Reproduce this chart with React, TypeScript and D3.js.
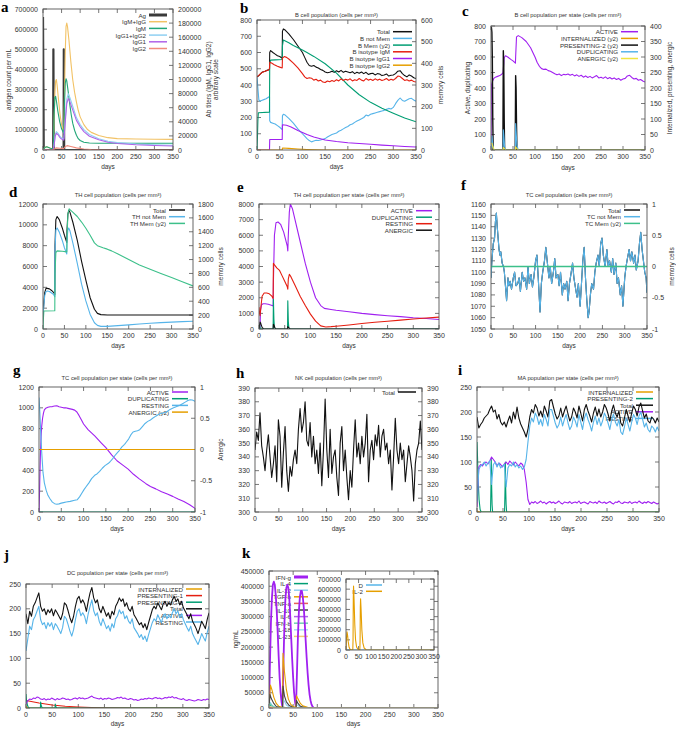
import React from "react";
import * as d3 from "d3";

type Pt = [number, number];

// ---------------- shared ----------------
const DAY_TICKS = [0, 50, 100, 150, 200, 250, 300, 350];
const stepPts = (vals: number[]): Pt[] => vals.map((v, i) => [(i * 350) / (vals.length - 1), v] as Pt);

// ---------------- panel a ----------------
const aAg: Pt[] = [[0, 660000], [1, 330000], [2, 0], [27.5, 0], [28, 500000], [29, 0], [55.5, 0], [56, 500000], [57, 0], [350, 0]];
const aIgMIgG: Pt[] = [[0, 0], [3, 2000], [6, 4000], [10, 4500], [15, 3500], [20, 2500], [27.5, 2000], [28, 3000], [30, 40000], [32, 80000], [34, 98000], [36, 100000], [38, 92000], [42, 70000], [46, 50000], [50, 36000], [54, 29000], [55.5, 28000], [56, 30000], [58, 80000], [60, 140000], [62, 175000], [64, 180000], [66, 175000], [70, 155000], [75, 125000], [80, 100000], [85, 82000], [90, 68000], [95, 56000], [100, 47000], [110, 36000], [120, 29000], [130, 25000], [150, 20500], [175, 17500], [200, 16200], [250, 15500], [300, 15200], [350, 15000]];
const aIgM: Pt[] = [[0, 0], [3, 2000], [6, 4000], [10, 4500], [15, 3500], [20, 2500], [27.5, 2000], [28, 3000], [30, 50000], [32, 75000], [34, 76000], [36, 70000], [40, 55000], [45, 40000], [50, 30000], [55.5, 24000], [56, 26000], [58, 70000], [60, 95000], [62, 101000], [64, 98000], [68, 82000], [72, 65000], [76, 50000], [80, 38000], [85, 28000], [90, 21000], [95, 16000], [100, 13500], [110, 11000], [125, 10000], [150, 9600], [350, 9500]];
const aIgG12: Pt[] = [[0, 0], [27.5, 0], [30, 8000], [33, 22000], [36, 26000], [40, 24000], [45, 20000], [50, 17000], [55.5, 15500], [56, 16000], [60, 45000], [64, 72000], [68, 80000], [72, 75000], [80, 62000], [90, 46000], [100, 36000], [110, 29000], [125, 22000], [150, 16000], [175, 12500], [200, 10500], [250, 8500], [300, 7500], [350, 6800]];
const aIgG1: Pt[] = [[0, 0], [27.5, 0], [30, 7000], [33, 20000], [36, 23500], [40, 22000], [45, 18000], [50, 15500], [55.5, 14000], [56, 14500], [60, 40000], [64, 66000], [68, 73000], [72, 69000], [80, 57000], [90, 42000], [100, 33000], [110, 26000], [125, 19500], [150, 14500], [175, 11000], [200, 9200], [250, 7500], [300, 6400], [350, 5700]];
const aIgG2: Pt[] = [[0, 0], [27.5, 0], [30, 1000], [35, 3000], [45, 2500], [55.5, 2000], [56, 2200], [60, 5000], [65, 6200], [75, 5000], [90, 3000], [110, 1500], [130, 600], [150, 200], [200, 0], [350, 0]];

// ---------------- panel b ----------------
const bTotal: Pt[] = [[0, 450], [3, 455], [8, 470], [12, 480], [18, 485], [22, 490], [27.5, 495], [28, 600], [30, 612], [35, 600], [40, 590], [45, 580], [50, 575], [55.5, 565], [56, 730], [58, 745], [62, 738], [70, 715], [80, 680], [90, 640], [100, 600], [105, 570], [110, 540], [115, 520], [120, 515], [125, 520], [130, 510], [135, 505], [140, 495], [145, 490], [150, 480], [155, 475], [160, 478], [165, 485], [170, 478], [175, 488], [180, 480], [185, 490], [190, 478], [195, 485], [200, 480], [205, 475], [210, 482], [215, 470], [220, 478], [225, 472], [230, 480], [235, 470], [240, 478], [245, 465], [250, 470], [255, 472], [260, 462], [265, 470], [270, 468], [275, 458], [280, 462], [285, 468], [290, 455], [295, 460], [300, 462], [305, 470], [310, 485], [315, 488], [320, 470], [325, 458], [330, 450], [335, 462], [340, 455], [345, 445], [350, 440]];
const bNotMem: Pt[] = [[0, 450], [2, 380], [4, 310], [6, 300], [10, 305], [15, 310], [20, 315], [25, 325], [27.5, 330], [28, 180], [30, 170], [35, 165], [40, 160], [45, 150], [50, 140], [55.5, 125], [56, 210], [58, 220], [62, 215], [70, 195], [80, 165], [90, 130], [100, 100], [105, 85], [110, 70], [115, 58], [120, 50], [125, 55], [130, 60], [135, 58], [140, 62], [145, 66], [150, 70], [155, 80], [160, 88], [165, 95], [170, 100], [175, 105], [180, 115], [185, 122], [190, 130], [195, 138], [200, 145], [205, 155], [210, 160], [215, 170], [220, 178], [225, 185], [230, 192], [235, 200], [240, 215], [245, 210], [250, 220], [255, 224], [260, 228], [265, 232], [270, 236], [275, 240], [280, 244], [285, 250], [290, 256], [295, 252], [300, 262], [305, 285], [310, 305], [315, 320], [320, 305], [325, 300], [330, 308], [335, 315], [340, 318], [345, 308], [350, 300]];
const bMem: Pt[] = [[0, 0], [1, 60], [2, 140], [3, 172], [27.5, 175], [28, 400], [30, 415], [40, 416], [55.5, 418], [56, 480], [58, 508], [70, 495], [80, 482], [90, 472], [100, 462], [110, 450], [125, 432], [150, 398], [175, 355], [200, 300], [225, 255], [250, 220], [275, 193], [300, 170], [325, 148], [350, 130]];
const bIgM: Pt[] = [[0, 450], [5, 462], [10, 475], [15, 482], [20, 488], [25, 492], [27.5, 500], [28, 540], [32, 535], [38, 525], [45, 515], [50, 510], [55.5, 505], [56, 565], [60, 575], [65, 570], [70, 560], [80, 535], [90, 505], [100, 470], [105, 450], [110, 440], [115, 445], [120, 442], [125, 430], [130, 435], [135, 425], [140, 430], [145, 418], [150, 415], [155, 425], [160, 420], [165, 428], [170, 422], [175, 432], [180, 425], [185, 438], [190, 428], [195, 435], [200, 430], [205, 438], [210, 425], [215, 432], [220, 428], [225, 440], [230, 430], [235, 425], [240, 440], [245, 430], [250, 435], [255, 428], [260, 438], [265, 430], [270, 436], [275, 428], [280, 432], [285, 440], [290, 428], [295, 435], [300, 430], [305, 440], [310, 455], [315, 452], [320, 440], [325, 428], [330, 432], [335, 425], [340, 430], [345, 422], [350, 418]];
const bIgG1: Pt[] = [[0, 0], [27.5, 0], [28, 65], [55.5, 65], [56, 155], [65, 152], [75, 142], [90, 120], [100, 108], [110, 95], [125, 80], [150, 62], [175, 52], [200, 45], [225, 40], [250, 35], [275, 30], [300, 26], [325, 22], [350, 18]];
const bIgG2: Pt[] = [[0, 0], [55.5, 0], [56, 12], [70, 10], [90, 6], [110, 3], [130, 1], [150, 0], [350, 0]];

// ---------------- panel c ----------------
const cActive: Pt[] = [[0, 0], [1, 420], [3, 440], [6, 460], [10, 470], [15, 475], [20, 480], [25, 490], [27.5, 500], [28, 520], [30, 595], [33, 608], [38, 600], [45, 585], [50, 575], [55.5, 560], [56, 600], [58, 730], [62, 738], [70, 725], [80, 700], [90, 660], [100, 600], [105, 565], [110, 540], [115, 525], [120, 520], [125, 522], [130, 512], [135, 508], [140, 500], [145, 492], [150, 485], [155, 490], [160, 480], [165, 488], [170, 485], [175, 490], [180, 482], [185, 488], [190, 478], [195, 485], [200, 475], [205, 482], [210, 470], [215, 478], [220, 468], [225, 475], [230, 465], [235, 472], [240, 480], [245, 465], [250, 470], [255, 462], [260, 472], [265, 460], [270, 468], [275, 458], [280, 465], [285, 455], [290, 462], [295, 450], [300, 458], [305, 462], [310, 478], [315, 482], [320, 468], [325, 458], [330, 462], [335, 450], [340, 455], [345, 445], [350, 438]];
const cInternalized: Pt[] = [[0, 0], [1, 8], [3, 3], [5, 0], [350, 0]];
const cPresenting: Pt[] = [[0, 395], [1, 395], [2, 380], [3, 300], [4, 100], [5, 0], [27, 0], [28, 320], [29, 280], [30, 100], [31, 0], [55, 0], [56, 240], [57, 200], [58, 80], [59, 0], [350, 0]];
const cDup: Pt[] = [[0, 0], [1, 40], [2, 90], [3, 60], [5, 10], [7, 0], [27.5, 0], [28, 130], [29, 100], [31, 20], [33, 0], [55.5, 0], [56, 170], [57, 120], [59, 30], [62, 0], [350, 0]];
const cAnergic: Pt[] = [[0, 20], [2, 22], [4, 12], [6, 5], [8, 0], [27.5, 0], [28, 8], [30, 5], [33, 0], [55.5, 0], [56, 10], [58, 6], [62, 0], [350, 0]];

// ---------------- panel d ----------------
const dTotal: Pt[] = [[0, 1300], [2, 2500], [4, 3500], [7, 3900], [10, 3900], [15, 3850], [20, 3700], [25, 3500], [27.5, 3300], [28, 8000], [30, 10500], [33, 10800], [38, 10500], [45, 9700], [50, 9000], [55.5, 8300], [56, 9500], [58, 11000], [60, 11400], [63, 11200], [70, 10200], [80, 8500], [90, 6500], [100, 4700], [110, 3000], [120, 1900], [127, 1500], [135, 1380], [150, 1350], [200, 1350], [250, 1350], [300, 1340], [350, 1350]];
const dNotMem: Pt[] = [[0, 1200], [2, 2300], [4, 3200], [7, 3600], [10, 3650], [15, 3600], [20, 3450], [25, 3300], [27.5, 3100], [28, 7500], [30, 9500], [33, 9700], [38, 9300], [45, 8500], [50, 7800], [55.5, 7200], [56, 8500], [58, 9500], [60, 9700], [63, 9400], [70, 8200], [80, 6300], [90, 4300], [100, 2700], [110, 1400], [120, 600], [127, 350], [135, 250], [150, 250], [175, 320], [200, 400], [225, 480], [250, 550], [275, 610], [300, 660], [325, 710], [350, 750]];
const dMem: Pt[] = [[0, 0], [1, 150], [2, 260], [27.5, 262], [28, 800], [30, 1100], [33, 1125], [45, 1120], [55.5, 1110], [56, 1300], [58, 1650], [61, 1730], [70, 1680], [80, 1620], [90, 1540], [100, 1450], [110, 1350], [120, 1240], [127, 1200], [140, 1170], [150, 1150], [160, 1125], [175, 1080], [200, 1000], [225, 920], [250, 860], [275, 800], [300, 740], [325, 680], [350, 620]];

// ---------------- panel e ----------------
const eActive: Pt[] = [[0, 0], [2, 100], [3, 1200], [5, 1550], [8, 1620], [12, 1620], [18, 1580], [24, 1520], [27.5, 1480], [28, 3000], [30, 6000], [33, 6800], [37, 6850], [42, 6700], [48, 6200], [55, 5300], [56, 5000], [57, 6000], [59, 7500], [61, 8000], [65, 7700], [70, 7000], [80, 5600], [90, 4200], [100, 3000], [110, 2000], [120, 1500], [127, 1320], [140, 1250], [150, 1200], [175, 1100], [200, 1000], [225, 920], [250, 850], [275, 790], [300, 720], [325, 670], [350, 610]];
const eDup: Pt[] = [[0, 0], [1, 300], [2, 100], [4, 0], [27.5, 0], [28, 1900], [29, 600], [30, 100], [32, 0], [55.5, 0], [56, 1800], [57, 500], [58, 100], [60, 0], [350, 0]];
const eResting: Pt[] = [[0, 1400], [1, 1000], [2, 850], [4, 1500], [6, 2100], [10, 2300], [15, 2300], [20, 2250], [25, 2100], [27.5, 1950], [28, 4200], [30, 4100], [35, 3900], [40, 3750], [45, 3400], [50, 3050], [55, 2700], [56, 2550], [57, 3200], [59, 3500], [62, 3350], [70, 2800], [80, 2100], [90, 1500], [100, 950], [110, 500], [120, 200], [130, 130], [140, 150], [150, 180], [175, 260], [200, 350], [225, 430], [250, 500], [275, 570], [300, 640], [325, 700], [350, 760]];
const eAnergic: Pt[] = [[0, 0], [1, 200], [2, 450], [3, 400], [4, 300], [6, 100], [9, 0], [27.5, 0], [28, 300], [29, 250], [31, 80], [33, 0], [55.5, 0], [56, 150], [57, 120], [59, 30], [61, 0], [350, 0]];

// ---------------- panel f ----------------
const fNotMem: Pt[] = [[0, 1095], [2, 1110], [5, 1125], [8, 1130], [10, 1145], [12, 1152], [14, 1140], [16, 1130], [18, 1120], [20, 1115], [22, 1118], [25, 1108], [28, 1105], [30, 1100], [33, 1085], [35, 1075], [38, 1095], [40, 1088], [43, 1092], [46, 1085], [50, 1095], [53, 1100], [56, 1088], [60, 1090], [63, 1095], [66, 1083], [70, 1100], [73, 1092], [76, 1095], [80, 1085], [83, 1105], [86, 1090], [90, 1098], [93, 1087], [96, 1095], [100, 1110], [103, 1115], [106, 1095], [108, 1080], [110, 1065], [113, 1090], [116, 1100], [120, 1110], [123, 1122], [126, 1110], [130, 1095], [133, 1105], [136, 1090], [140, 1100], [143, 1112], [146, 1095], [150, 1098], [153, 1088], [156, 1100], [160, 1080], [163, 1090], [166, 1085], [170, 1092], [173, 1075], [176, 1090], [180, 1100], [183, 1108], [186, 1095], [190, 1085], [193, 1078], [196, 1090], [200, 1070], [203, 1090], [206, 1110], [209, 1122], [212, 1095], [215, 1075], [218, 1060], [220, 1065], [223, 1080], [226, 1090], [230, 1085], [233, 1100], [236, 1108], [240, 1115], [243, 1105], [246, 1125], [249, 1130], [252, 1115], [256, 1105], [260, 1120], [263, 1105], [266, 1110], [270, 1100], [273, 1112], [276, 1098], [280, 1108], [283, 1090], [286, 1095], [290, 1080], [293, 1088], [296, 1070], [300, 1095], [303, 1105], [306, 1112], [310, 1120], [313, 1110], [316, 1118], [320, 1108], [323, 1115], [326, 1102], [330, 1110], [333, 1125], [336, 1135], [339, 1120], [342, 1110], [345, 1100], [348, 1095], [350, 1082]];
const fMem: Pt[] = [[0, 0], [350, 0]];

// ---------------- panel g ----------------
const gActive: Pt[] = [[0, 0], [1, 150], [2, 350], [3, 520], [4, 650], [5, 750], [6, 820], [8, 900], [10, 950], [12, 980], [15, 995], [20, 1005], [25, 1010], [30, 1012], [35, 1018], [40, 1020], [45, 1010], [50, 1005], [55, 1000], [60, 1000], [65, 995], [70, 990], [75, 985], [80, 978], [85, 960], [90, 925], [95, 885], [100, 845], [110, 790], [125, 730], [140, 662], [150, 618], [163, 548], [175, 492], [188, 450], [200, 412], [212, 362], [225, 318], [240, 272], [250, 245], [262, 222], [275, 195], [288, 172], [300, 150], [312, 125], [325, 100], [338, 70], [350, 35]];
const gDup: Pt[] = [[0, 0], [350, 0]];
const gResting: Pt[] = [[0, 1100], [2, 950], [4, 750], [6, 580], [9, 380], [12, 280], [16, 210], [20, 160], [25, 125], [30, 95], [35, 80], [40, 75], [45, 78], [50, 85], [55, 90], [61, 96], [70, 102], [80, 112], [86, 118], [91, 145], [96, 180], [101, 215], [106, 245], [112, 280], [118, 320], [125, 352], [130, 365], [136, 390], [142, 420], [148, 445], [155, 465], [159, 480], [165, 510], [170, 540], [174, 560], [180, 590], [186, 625], [192, 650], [196, 672], [201, 700], [206, 740], [211, 768], [216, 775], [221, 780], [226, 790], [232, 820], [238, 850], [244, 870], [249, 880], [255, 900], [262, 920], [270, 940], [278, 950], [286, 960], [294, 985], [302, 1000], [309, 1012], [316, 1024], [322, 1040], [328, 1055], [334, 1070], [339, 1078], [344, 1075], [350, 1062]];
const gAnergic: Pt[] = [[0, 0], [350, 0]];

// ---------------- panel h ----------------
const hTotalVals = [345, 358, 352, 372, 348, 340, 330, 345, 356, 340, 325, 335, 348, 322, 367, 355, 318, 343, 362, 330, 315, 333, 326, 338, 345, 335, 360, 375, 358, 365, 380, 352, 348, 365, 340, 355, 335, 345, 328, 350, 319, 345, 382, 345, 325, 360, 328, 340, 345, 325, 312, 350, 362, 330, 345, 325, 309, 330, 318, 345, 367, 340, 350, 335, 355, 340, 350, 371, 322, 345, 352, 338, 356, 348, 363, 340, 355, 360, 345, 350, 335, 345, 316, 340, 368, 345, 335, 350, 338, 345, 322, 335, 348, 340, 330, 308, 335, 345, 350, 366, 345];

// ---------------- panel i ----------------
const iInternalized: Pt[] = [[0, 2], [5, 0], [350, 0]];
const iPresenting: Pt[] = [[0, 140], [1, 110], [2, 70], [4, 25], [6, 5], [8, 0], [26, 0], [27, 60], [27.5, 105], [28, 60], [29, 15], [30, 0], [53, 0], [54, 50], [54.5, 100], [55, 55], [56, 15], [57, 0], [350, 0]];
const iTotalVals = [190, 168, 175, 180, 188, 192, 196, 205, 212, 200, 204, 186, 195, 180, 174, 180, 170, 182, 192, 178, 200, 186, 210, 188, 176, 168, 160, 150, 165, 190, 205, 198, 215, 208, 192, 202, 190, 212, 202, 190, 222, 225, 210, 196, 186, 192, 208, 190, 202, 212, 196, 182, 190, 208, 200, 188, 212, 198, 182, 205, 215, 202, 192, 180, 198, 210, 192, 206, 190, 200, 215, 208, 196, 182, 202, 214, 198, 190, 202, 178, 172, 188, 205, 192, 180, 198, 212, 205, 192, 210, 218, 202, 188, 196, 182, 178, 190, 186, 178, 188, 180];
const iActiveVals = [10, 90, 95, 92, 98, 100, 96, 102, 110, 105, 100, 92, 98, 95, 90, 96, 100, 95, 102, 98, 94, 100, 96, 92, 98, 95, 85, 60, 25, 15, 20, 18, 21, 17, 19, 22, 18, 20, 16, 19, 21, 18, 20, 17, 19, 22, 18, 16, 20, 19, 18, 21, 17, 19, 20, 18, 22, 17, 19, 20, 18, 16, 21, 19, 18, 20, 17, 22, 19, 18, 20, 17, 19, 21, 18, 16, 20, 19, 22, 18, 17, 20, 19, 18, 21, 17, 19, 20, 18, 22, 19, 17, 20, 18, 21, 19, 17, 20, 18, 16, 18];
const iRestingVals = [20, 85, 92, 95, 100, 92, 98, 102, 55, 95, 100, 90, 98, 88, 92, 95, 50, 88, 95, 92, 100, 90, 95, 88, 92, 85, 90, 105, 140, 172, 188, 180, 198, 190, 175, 185, 172, 195, 185, 172, 205, 205, 192, 178, 168, 175, 190, 172, 185, 195, 178, 165, 172, 190, 182, 170, 195, 180, 165, 188, 198, 185, 175, 162, 180, 192, 175, 188, 172, 182, 198, 190, 178, 165, 185, 196, 180, 172, 185, 160, 155, 170, 188, 175, 162, 180, 195, 188, 175, 192, 200, 185, 170, 178, 165, 160, 172, 168, 160, 170, 162];

// ---------------- panel j ----------------
const jInternalized: Pt[] = [[0, 3], [5, 0], [350, 0]];
const jPres1: Pt[] = [[0, 15], [10, 13], [25, 10], [50, 6], [75, 3.5], [100, 2], [125, 1], [150, 0.3], [200, 0], [350, 0]];
const jPres2: Pt[] = [[0, 28], [1, 15], [3, 5], [5, 0], [27.5, 0], [28, 12], [29, 5], [31, 0], [55.5, 0], [56, 8], [57, 3], [59, 0], [350, 0]];
const jTotalVals = [190, 170, 195, 185, 205, 212, 222, 232, 205, 195, 200, 188, 198, 192, 200, 186, 198, 192, 185, 178, 190, 212, 208, 196, 182, 172, 185, 205, 220, 225, 212, 218, 210, 195, 215, 232, 243, 222, 212, 218, 200, 192, 205, 195, 185, 192, 180, 195, 188, 205, 212, 222, 215, 220, 205, 212, 200, 195, 205, 188, 182, 175, 168, 172, 162, 170, 158, 172, 185, 198, 205, 200, 212, 205, 198, 210, 215, 205, 212, 208, 218, 225, 215, 220, 208, 215, 202, 195, 188, 180, 190, 175, 168, 160, 150, 162, 175, 168, 160, 178, 192];
const jActiveVals = [8, 15, 18, 17, 20, 19, 22, 21, 18, 17, 19, 16, 18, 17, 20, 18, 16, 19, 17, 18, 20, 19, 17, 18, 16, 17, 19, 20, 18, 21, 19, 20, 18, 19, 20, 22, 24, 21, 20, 19, 18, 20, 17, 19, 18, 20, 19, 17, 18, 19, 21, 20, 22, 19, 20, 18, 17, 19, 18, 16, 17, 15, 16, 18, 17, 19, 18, 20, 19, 18, 20, 21, 19, 20, 18, 19, 21, 20, 22, 21, 23, 20, 21, 19, 18, 17, 19, 16, 15, 17, 16, 15, 14, 15, 17, 16, 15, 17, 16, 18, 17];
const jRestingVals = [115, 140, 165, 158, 178, 185, 195, 205, 178, 168, 172, 160, 172, 165, 172, 158, 170, 165, 158, 150, 162, 185, 180, 168, 155, 145, 158, 178, 195, 200, 186, 192, 185, 170, 190, 205, 218, 196, 186, 192, 175, 166, 180, 170, 160, 166, 155, 170, 162, 180, 186, 198, 190, 195, 180, 186, 175, 170, 180, 162, 156, 150, 142, 148, 138, 145, 134, 148, 160, 172, 180, 175, 188, 180, 172, 185, 190, 180, 188, 182, 192, 200, 190, 196, 182, 190, 178, 170, 162, 155, 165, 150, 142, 135, 128, 138, 150, 142, 135, 152, 165];

// ---------------- panel k ----------------
const kIFNg: Pt[] = [[0, 0], [2, 150000], [4, 280000], [6, 360000], [8, 405000], [10, 415000], [12, 405000], [14, 370000], [16, 320000], [18, 250000], [20, 170000], [22, 100000], [24, 50000], [26, 20000], [27.5, 5000], [28, 10000], [30, 150000], [32, 280000], [34, 360000], [36, 395000], [38, 405000], [40, 395000], [42, 360000], [44, 300000], [46, 230000], [48, 160000], [50, 100000], [52, 50000], [54, 20000], [55.5, 5000], [56, 10000], [58, 120000], [60, 240000], [62, 320000], [64, 365000], [66, 385000], [68, 385000], [70, 365000], [72, 330000], [74, 280000], [76, 220000], [78, 165000], [80, 115000], [82, 75000], [84, 45000], [86, 25000], [88, 12000], [90, 5000], [93, 0], [350, 0]];
const kIL4: Pt[] = [[0, 0], [1, 5000], [3, 8000], [8, 3000], [15, 500], [28, 0], [29, 3000], [35, 1000], [50, 0], [350, 0]];
const kIL12: Pt[] = [[0, 0], [1, 20000], [3, 18000], [6, 10000], [10, 4000], [15, 1000], [27.5, 0], [28, 5000], [29, 30000], [32, 22000], [36, 10000], [42, 3000], [50, 500], [55.5, 0], [56, 3000], [57, 12000], [60, 8000], [65, 3000], [75, 500], [85, 0], [350, 0]];
const kTGFb: Pt[] = [[0, 0], [3, 75000], [6, 60000], [10, 35000], [15, 15000], [20, 6000], [27.5, 2000], [28, 5000], [29, 180000], [32, 120000], [36, 60000], [40, 30000], [45, 12000], [50, 5000], [55.5, 2000], [56, 5000], [57, 40000], [60, 30000], [65, 15000], [70, 7000], [80, 2000], [100, 0], [350, 0]];
const kTNFa: Pt[] = [[0, 0], [2, 3000], [8, 1000], [20, 0], [350, 0]];
const kIL10: Pt[] = [[0, 0], [2, 45000], [5, 30000], [10, 15000], [15, 5000], [27.5, 0], [28, 0], [29, 72000], [32, 40000], [36, 20000], [42, 8000], [50, 2000], [56, 0], [57, 25000], [60, 15000], [65, 6000], [75, 1000], [90, 0], [350, 0]];
const kIL6: Pt[] = [[0, 0], [2, 4000], [8, 1000], [15, 0], [350, 0]];
const kIFNb: Pt[] = [[0, 0], [2, 15000], [6, 8000], [12, 2000], [20, 0], [350, 0]];
const kIL18: Pt[] = [[0, 0], [2, 6000], [8, 2000], [15, 0], [350, 0]];
const kIL23: Pt[] = [[0, 0], [2, 5000], [8, 1500], [15, 0], [350, 0]];
const kD: Pt[] = [[0, 0], [350, 0]];
const kIL2: Pt[] = [[0, 0], [2, 120000], [4, 180000], [6, 150000], [9, 80000], [12, 30000], [16, 8000], [20, 2000], [27, 0], [28, 100000], [29, 500000], [30, 630000], [32, 500000], [35, 250000], [38, 100000], [42, 30000], [48, 5000], [55, 0], [56, 100000], [57, 420000], [58, 505000], [60, 400000], [63, 200000], [67, 70000], [72, 20000], [80, 3000], [90, 0], [350, 0]];

// ---------------- styles ----------------
const PURPLE = "#a020f0";
const GREEN = "#009e73";
const LBLUE = "#56b4e9";
const ORANGE = "#e69f00";
const YELLOW = "#f0e442";
const RED = "#e51e10";
const BLACK = "#111111";
const FONT = "'Liberation Sans', Arial, Helvetica, sans-serif";
const SERIF = "'Liberation Serif', 'DejaVu Serif', Times, serif";
const AXC = "#555";
const TXT = "#333";

interface Series { d: Pt[]; c: string; w?: number; y2?: boolean; }
interface Leg { t: string; c: string; w?: number; }
interface Spec {
  id: string; letter?: string; lx?: number; ly?: number;
  L: number; R: number; T: number; B: number;
  yDom: [number, number]; yTicks: number[];
  y2Dom?: [number, number]; y2Ticks?: number[]; mirrorLabels?: boolean;
  title?: string; titleX?: number; titleY?: number;
  yLabel?: string; yLabelX?: number;
  y2Label?: string[]; y2LabelX?: number[];
  xLabelY?: number;
  series: Series[];
  legend: Leg[]; legR: number; legT: number; legStep: number; sx0: number; sx1: number;
  bg?: boolean;
}

const r = (a: number, b: number, s: number) => d3.range(a, b + s / 2, s);

function Panel({ s }: { s: Spec }) {
  const x = d3.scaleLinear().domain([0, 350]).range([s.L, s.R]);
  const y = d3.scaleLinear().domain(s.yDom).range([s.B, s.T]);
  const y2 = s.y2Dom ? d3.scaleLinear().domain(s.y2Dom).range([s.B, s.T]) : y;
  const TL = 4;
  const cx = (s.L + s.R) / 2;
  const cy = (s.T + s.B) / 2;
  const fmt = (v: number) => String(Math.round(v * 100) / 100);
  return (
    <g fontFamily={FONT}>
      <defs>
        <clipPath id={`clip-${s.id}`}>
          <rect x={s.L} y={s.T} width={s.R - s.L} height={s.B - s.T} />
        </clipPath>
      </defs>
      {s.bg && <rect x={s.L} y={s.T} width={s.R - s.L} height={s.B - s.T} fill="#fff" />}
      {s.yTicks.map((v) => (
        <g key={"y" + v}>
          <line x1={s.L} x2={s.L + TL} y1={y(v)} y2={y(v)} stroke={AXC} strokeWidth={0.8} />
          {!s.y2Dom && <line x1={s.R - TL} x2={s.R} y1={y(v)} y2={y(v)} stroke={AXC} strokeWidth={0.8} />}
          <text x={s.L - 5} y={y(v)} fontSize={7} fill={TXT} textAnchor="end" dominantBaseline="central">{fmt(v)}</text>
          {s.mirrorLabels && (
            <text x={s.R + 5} y={y(v)} fontSize={7} fill={TXT} textAnchor="start" dominantBaseline="central">{fmt(v)}</text>
          )}
        </g>
      ))}
      {s.y2Dom && s.y2Ticks && s.y2Ticks.map((v) => (
        <g key={"y2" + v}>
          <line x1={s.R - TL} x2={s.R} y1={y2(v)} y2={y2(v)} stroke={AXC} strokeWidth={0.8} />
          <text x={s.R + 5} y={y2(v)} fontSize={7} fill={TXT} textAnchor="start" dominantBaseline="central">{fmt(v)}</text>
        </g>
      ))}
      {DAY_TICKS.map((v) => (
        <g key={"x" + v}>
          <line x1={x(v)} x2={x(v)} y1={s.B} y2={s.B - TL} stroke={AXC} strokeWidth={0.8} />
          <line x1={x(v)} x2={x(v)} y1={s.T} y2={s.T + TL} stroke={AXC} strokeWidth={0.8} />
          <text x={x(v)} y={s.B + 6} fontSize={7} fill={TXT} textAnchor="middle" dominantBaseline="central">{v}</text>
        </g>
      ))}
      {s.legend.map((l, i) => (
        <g key={"l" + i}>
          <text x={s.legR} y={s.legT + i * s.legStep} fontSize={6.2} fill={TXT} textAnchor="end" dominantBaseline="central">{l.t}</text>
          <line x1={s.sx0} x2={s.sx1} y1={s.legT + i * s.legStep} y2={s.legT + i * s.legStep} stroke={l.c} strokeWidth={l.w ?? 1.5} />
        </g>
      ))}
      <g clipPath={`url(#clip-${s.id})`}>
        {s.series.map((se, i) => {
          const yy = se.y2 ? y2 : y;
          const line = d3.line<Pt>().x((d) => x(d[0])).y((d) => yy(d[1]));
          return <path key={"s" + i} d={line(se.d) || ""} fill="none" stroke={se.c} strokeWidth={se.w ?? 1.1} strokeLinejoin="round" />;
        })}
      </g>
      <rect x={s.L} y={s.T} width={s.R - s.L} height={s.B - s.T} fill="none" stroke={AXC} strokeWidth={0.9} />
      {s.title && (
        <text x={s.titleX ?? cx} y={s.titleY} fontSize={5.8} fill={TXT} textAnchor="middle" dominantBaseline="central">{s.title}</text>
      )}
      {s.xLabelY !== undefined && (
        <text x={cx} y={s.xLabelY} fontSize={6.5} fill={TXT} textAnchor="middle" dominantBaseline="central">days</text>
      )}
      {s.yLabel && (
        <text transform={`translate(${s.yLabelX},${cy}) rotate(-90)`} fontSize={6.5} fill={TXT} textAnchor="middle" dominantBaseline="central">{s.yLabel}</text>
      )}
      {s.y2Label && s.y2Label.map((t, i) => (
        <text key={"yl2" + i} transform={`translate(${s.y2LabelX![i]},${cy}) rotate(-90)`} fontSize={6.5} fill={TXT} textAnchor="middle" dominantBaseline="central">{t}</text>
      ))}
      {s.letter && (
        <text x={s.lx} y={s.ly} fontFamily={SERIF} fontWeight="bold" fontSize={15} fill="#000">{s.letter}</text>
      )}
    </g>
  );
}

const specs: Spec[] = [
  {
    id: "a", letter: "a", lx: 1, ly: 12, L: 43, R: 173, T: 9, B: 150,
    yDom: [0, 700000], yTicks: r(0, 700000, 100000), y2Dom: [0, 200000], y2Ticks: r(0, 200000, 20000),
    yLabel: "antigen count per mL", yLabelX: 8, y2Label: ["Ab titers (IgM, IgG1, IgG2)", "arbitrary scale"], y2LabelX: [208, 215],
    xLabelY: 166,
    series: [
      { d: aAg, c: "#3a3a3a", w: 2.2 },
      { d: aIgMIgG, c: "#f2c265", y2: true },
      { d: aIgM, c: "#22a678", y2: true },
      { d: aIgG12, c: "#8fd0f2", y2: true },
      { d: aIgG1, c: "#b062e8", y2: true },
      { d: aIgG2, c: "#f28b7d", y2: true },
    ],
    legend: [
      { t: "Ag", c: "#3a3a3a", w: 3 }, { t: "IgM+IgG", c: "#f2c265" }, { t: "IgM", c: "#22a678" },
      { t: "IgG1+IgG2", c: "#8fd0f2" }, { t: "IgG1", c: "#b062e8" }, { t: "IgG2", c: "#f28b7d" },
    ],
    legR: 146, legT: 15, legStep: 6.7, sx0: 149, sx1: 167,
  },
  {
    id: "b", letter: "b", lx: 240, ly: 13, L: 257, R: 416, T: 20, B: 150,
    yDom: [0, 800], yTicks: r(0, 800, 100), y2Dom: [0, 600], y2Ticks: r(0, 600, 100),
    title: "B cell population (cells per mm³)", titleY: 15,
    y2Label: ["memory cells"], y2LabelX: [440], xLabelY: 166,
    series: [
      { d: bTotal, c: BLACK }, { d: bNotMem, c: LBLUE }, { d: bMem, c: GREEN, y2: true },
      { d: bIgM, c: RED }, { d: bIgG1, c: PURPLE }, { d: bIgG2, c: ORANGE },
    ],
    legend: [
      { t: "Total", c: BLACK }, { t: "B not Mem", c: LBLUE }, { t: "B Mem (y2)", c: GREEN },
      { t: "B isotype IgM", c: RED }, { t: "B isotype IgG1", c: PURPLE }, { t: "B isotype IgG2", c: ORANGE },
    ],
    legR: 390, legT: 31.7, legStep: 6.7, sx0: 393, sx1: 412,
  },
  {
    id: "c", letter: "c", lx: 462, ly: 16, L: 491, R: 645, T: 26, B: 150,
    yDom: [0, 800], yTicks: r(0, 800, 100), y2Dom: [0, 400], y2Ticks: r(0, 400, 50),
    title: "B cell population  per state (cells per mm³)", titleY: 15,
    yLabel: "Active, duplicating", yLabelX: 467, y2Label: ["Internalized, presenting, anergic"], y2LabelX: [669], xLabelY: 167,
    series: [
      { d: cActive, c: PURPLE }, { d: cInternalized, c: ORANGE, y2: true }, { d: cPresenting, c: BLACK, y2: true, w: 1.4 },
      { d: cDup, c: LBLUE }, { d: cAnergic, c: YELLOW, y2: true },
    ],
    legend: [
      { t: "ACTIVE", c: PURPLE }, { t: "INTERNALIZED (y2)", c: ORANGE }, { t: "PRESENTING-2 (y2)", c: BLACK },
      { t: "DUPLICATING", c: LBLUE }, { t: "ANERGIC (y2)", c: YELLOW },
    ],
    legR: 618, legT: 31.7, legStep: 6.7, sx0: 621, sx1: 638,
  },
  {
    id: "d", letter: "d", lx: 9, ly: 197, L: 43, R: 193, T: 204, B: 329,
    yDom: [0, 12000], yTicks: r(0, 12000, 2000), y2Dom: [0, 1800], y2Ticks: r(0, 1800, 200),
    title: "TH cell population (cells per mm³)", titleY: 195,
    y2Label: ["memory cells"], y2LabelX: [220], xLabelY: 345,
    series: [{ d: dTotal, c: BLACK }, { d: dNotMem, c: LBLUE }, { d: dMem, c: "#3cc08a", y2: true }],
    legend: [{ t: "Total", c: BLACK }, { t: "TH not Mem", c: LBLUE }, { t: "TH Mem (y2)", c: "#3cc08a" }],
    legR: 166, legT: 210, legStep: 6.7, sx0: 169, sx1: 185,
  },
  {
    id: "e", letter: "e", lx: 237, ly: 192, L: 259, R: 439, T: 204, B: 329,
    yDom: [0, 8000], yTicks: r(0, 8000, 1000),
    title: "TH cell population per state (cells per mm³)", titleY: 195, xLabelY: 345,
    series: [{ d: eActive, c: PURPLE }, { d: eDup, c: GREEN }, { d: eResting, c: RED }, { d: eAnergic, c: BLACK }],
    legend: [{ t: "ACTIVE", c: PURPLE }, { t: "DUPLICATING", c: GREEN }, { t: "RESTING", c: RED }, { t: "ANERGIC", c: BLACK }],
    legR: 413, legT: 210.7, legStep: 6.5, sx0: 416, sx1: 432,
  },
  {
    id: "f", letter: "f", lx: 461, ly: 190, L: 491, R: 647, T: 204, B: 329,
    yDom: [1050, 1160], yTicks: r(1050, 1160, 10), y2Dom: [-1, 1], y2Ticks: r(-1, 1, 0.5),
    title: "TC cell population (cells per mm³)", titleY: 195,
    y2Label: ["memory cells"], y2LabelX: [671], xLabelY: 345,
    series: [{ d: fNotMem, c: BLACK }, { d: fNotMem, c: LBLUE }, { d: fMem, c: "#3cc08a", y2: true, w: 1.3 }],
    legend: [{ t: "Total", c: BLACK }, { t: "TC not Mem", c: LBLUE }, { t: "TC Mem (y2)", c: "#3cc08a" }],
    legR: 621, legT: 210, legStep: 6.7, sx0: 624, sx1: 640,
  },
  {
    id: "g", letter: "g", lx: 13, ly: 375, L: 39, R: 195, T: 387, B: 512,
    yDom: [0, 1200], yTicks: r(0, 1200, 200), y2Dom: [-1, 1], y2Ticks: r(-1, 1, 0.5),
    title: "TC cell population per state (cells per mm³)", titleY: 378,
    y2Label: ["Anergic"], y2LabelX: [220], xLabelY: 528,
    series: [{ d: gActive, c: PURPLE }, { d: gDup, c: GREEN }, { d: gResting, c: LBLUE }, { d: gAnergic, c: ORANGE, y2: true }],
    legend: [{ t: "ACTIVE", c: PURPLE }, { t: "DUPLICATING", c: GREEN }, { t: "RESTING", c: LBLUE }, { t: "ANERGIC (y2)", c: ORANGE }],
    legR: 169, legT: 392, legStep: 6.7, sx0: 172, sx1: 188,
  },
  {
    id: "h", letter: "h", lx: 236, ly: 378, L: 255, R: 422, T: 388, B: 512,
    yDom: [300, 390], yTicks: r(300, 390, 10), mirrorLabels: true,
    title: "NK cell population (cells per mm³)", titleY: 378, xLabelY: 528,
    series: [{ d: stepPts(hTotalVals), c: BLACK }],
    legend: [{ t: "Total", c: BLACK }],
    legR: 395, legT: 392, legStep: 6.7, sx0: 398, sx1: 416,
  },
  {
    id: "i", letter: "i", lx: 458, ly: 375, L: 477, R: 659, T: 387, B: 512,
    yDom: [0, 250], yTicks: r(0, 250, 50),
    title: "MA population per state (cells per mm³)", titleY: 378, xLabelY: 528,
    series: [
      { d: iInternalized, c: ORANGE }, { d: iPresenting, c: GREEN }, { d: stepPts(iTotalVals), c: BLACK },
      { d: stepPts(iActiveVals), c: PURPLE }, { d: stepPts(iRestingVals), c: LBLUE },
    ],
    legend: [
      { t: "INTERNALIZED", c: ORANGE }, { t: "PRESENTING-2", c: GREEN }, { t: "Total", c: BLACK },
      { t: "ACTIVE", c: PURPLE }, { t: "RESTING", c: LBLUE },
    ],
    legR: 633, legT: 392, legStep: 6.6, sx0: 636, sx1: 653,
  },
  {
    id: "j", letter: "j", lx: 4, ly: 560, L: 26, R: 209, T: 584, B: 708,
    yDom: [0, 250], yTicks: r(0, 250, 50),
    title: "DC population per state (cells per mm³)", titleY: 573, xLabelY: 723,
    series: [
      { d: jInternalized, c: ORANGE }, { d: jPres1, c: RED }, { d: jPres2, c: GREEN },
      { d: stepPts(jTotalVals), c: BLACK }, { d: stepPts(jActiveVals), c: PURPLE }, { d: stepPts(jRestingVals), c: LBLUE },
    ],
    legend: [
      { t: "INTERNALIZED", c: ORANGE }, { t: "PRESENTING-1", c: RED }, { t: "PRESENTING-2", c: GREEN },
      { t: "Total", c: BLACK }, { t: "ACTIVE", c: PURPLE }, { t: "RESTING", c: LBLUE },
    ],
    legR: 183, legT: 589, legStep: 6.6, sx0: 186, sx1: 202,
  },
  {
    id: "k", letter: "k", lx: 242, ly: 558, L: 269, R: 438, T: 571, B: 708,
    yDom: [0, 450000], yTicks: r(0, 450000, 50000),
    yLabel: "ng/mL", yLabelX: 235, xLabelY: 723,
    series: [
      { d: kIFNg, c: PURPLE, w: 1.8 }, { d: kIL4, c: GREEN }, { d: kIL12, c: "#8fd0f2" }, { d: kTGFb, c: ORANGE },
      { d: kTNFa, c: "#e8605a" }, { d: kIL10, c: "#444" }, { d: kIL6, c: "#b062e8" }, { d: kIFNb, c: "#6fd0b0" },
      { d: kIL18, c: "#a8dcf4" }, { d: kIL23, c: "#f4c878" },
    ],
    legend: [
      { t: "IFN-g", c: PURPLE, w: 3 }, { t: "IL-4", c: GREEN }, { t: "IL-12", c: "#8fd0f2" }, { t: "TGF-b", c: ORANGE },
      { t: "TNF-a", c: "#e8605a" }, { t: "IL-10", c: "#444" }, { t: "IL-6", c: "#b062e8" }, { t: "IFN-b", c: "#6fd0b0" },
      { t: "IL-18", c: "#a8dcf4" }, { t: "IL-23", c: "#f4c878" },
    ],
    legR: 291, legT: 577, legStep: 6.6, sx0: 294, sx1: 308,
  },
  {
    id: "kin", L: 346, R: 434, T: 579, B: 650, bg: true,
    yDom: [0, 700000], yTicks: r(0, 700000, 100000),
    series: [{ d: kD, c: LBLUE }, { d: kIL2, c: ORANGE }],
    legend: [{ t: "D", c: LBLUE }, { t: "IL-2", c: ORANGE }],
    legR: 363, legT: 585, legStep: 6.3, sx0: 366, sx1: 382,
  },
];

export default function App() {
  return (
    <svg width={676} height={730} viewBox="0 0 676 730" style={{ position: "absolute", left: 0, top: 0, background: "#fff" }}>
      <rect x={0} y={0} width={676} height={730} fill="#fff" />
      {specs.map((s) => <Panel key={s.id} s={s} />)}
    </svg>
  );
}
